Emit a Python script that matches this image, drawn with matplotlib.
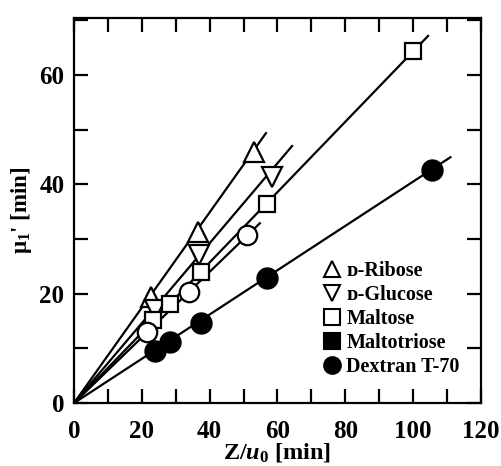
import matplotlib
matplotlib.use("Agg")
import matplotlib.pyplot as plt
from matplotlib.lines import Line2D
import numpy as np

plt.rcParams['font.family'] = ['Liberation Serif', 'DejaVu Serif']
plt.rcParams['font.weight'] = 'bold'
plt.rcParams['mathtext.fontset'] = 'custom'
plt.rcParams['mathtext.rm'] = 'Liberation Serif:bold'
plt.rcParams['mathtext.it'] = 'Liberation Serif:italic:bold'
plt.rcParams['mathtext.bf'] = 'Liberation Serif:bold'

# Data
ribose_x = [22.7, 36.6, 53.0]
ribose_y = [19.4, 31.3, 45.9]
glucose_x = [23.9, 36.9, 58.4]
glucose_y = [17.0, 27.1, 41.3]
maltose_x = [23.4, 28.3, 37.4, 56.9, 100.0]
maltose_y = [15.2, 18.1, 24.0, 36.4, 64.4]
maltotriose_x = [21.5, 33.9, 51.0]
maltotriose_y = [13.0, 20.3, 30.7]
dextran_x = [23.9, 28.3, 37.5, 56.9, 105.5]
dextran_y = [9.5, 11.2, 14.6, 22.9, 42.6]

# fitted lines through origin: slope and x extent
fit_slopes = [0.872, 0.731, 0.643, 0.600, 0.405]
fit_xmax = [56.6, 64.3, 104.4, 54.8, 111.0]

labels = ['ᴅ-Ribose', 'ᴅ-Glucose', 'Maltose', 'Maltotriose', 'Dextran T-70']

fig = plt.figure(figsize=(5.01, 4.66), dpi=100)
ax = fig.add_axes([0.1477, 0.135, 0.8123, 0.8274])

lw = 1.6
for s, xm in zip(fit_slopes, fit_xmax):
    xx = np.array([0, xm])
    ax.plot(xx, s * xx, color='black', lw=lw, zorder=1)

mk = dict(linestyle='none', markeredgecolor='black', markeredgewidth=1.6, zorder=3)
ax.plot(ribose_x, ribose_y, marker='^', ms=14.5, markerfacecolor='white', **mk)
ax.plot(glucose_x, glucose_y, marker='v', ms=14.5, markerfacecolor='white', **mk)
ax.plot(maltose_x, maltose_y, marker='s', ms=11.5, markerfacecolor='white', **mk)
ax.plot(maltotriose_x, maltotriose_y, marker='o', ms=14, markerfacecolor='white', **mk)
ax.plot(dextran_x, dextran_y, marker='o', ms=14.5, markerfacecolor='black', **mk)

ax.set_xlim(0, 120)
ax.set_ylim(0, 70.5)
ax.set_xticks(np.arange(0, 121, 20))
ax.set_xticks(np.arange(10, 120, 20), minor=True)
ax.set_yticks(np.arange(0, 61, 20))
ax.set_yticks(np.arange(10, 71, 20), minor=True)
ax.tick_params(which='both', direction='in', top=True, right=True,
               length=10, width=1.6, labelsize=18)
ax.tick_params(axis='x', pad=12)
ax.tick_params(axis='y', pad=7)
for sp in ax.spines.values():
    sp.set_linewidth(1.6)
for t in ax.get_xticklabels() + ax.get_yticklabels():
    t.set_fontweight('bold')

ax.set_xlabel(r'Z/$u_0$ [min]', fontsize=17.5, fontweight='bold', labelpad=-1)
ax.set_ylabel(r"$\mathregular{μ_1}$' [min]", fontsize=16.5, fontweight='bold', labelpad=4)

mk2 = dict(linestyle='none', markeredgecolor='black', markeredgewidth=1.5)
handles = [
    Line2D([], [], marker='^', ms=12, markerfacecolor='white', **mk2),
    Line2D([], [], marker='v', ms=12, markerfacecolor='white', **mk2),
    Line2D([], [], marker='s', ms=11, markerfacecolor='white', **mk2),
    Line2D([], [], marker='s', ms=11, markerfacecolor='black', **mk2),
    Line2D([], [], marker='o', ms=12, markerfacecolor='black', **mk2),
]
leg = ax.legend(handles, labels, loc='lower left', bbox_to_anchor=(0.615, 0.067),
                frameon=False, handlelength=0.8, handletextpad=0.3,
                labelspacing=0.2, borderaxespad=0, borderpad=0,
                prop={'size': 14.5, 'weight': 'bold'})

fig.savefig('out.png', dpi=100)
